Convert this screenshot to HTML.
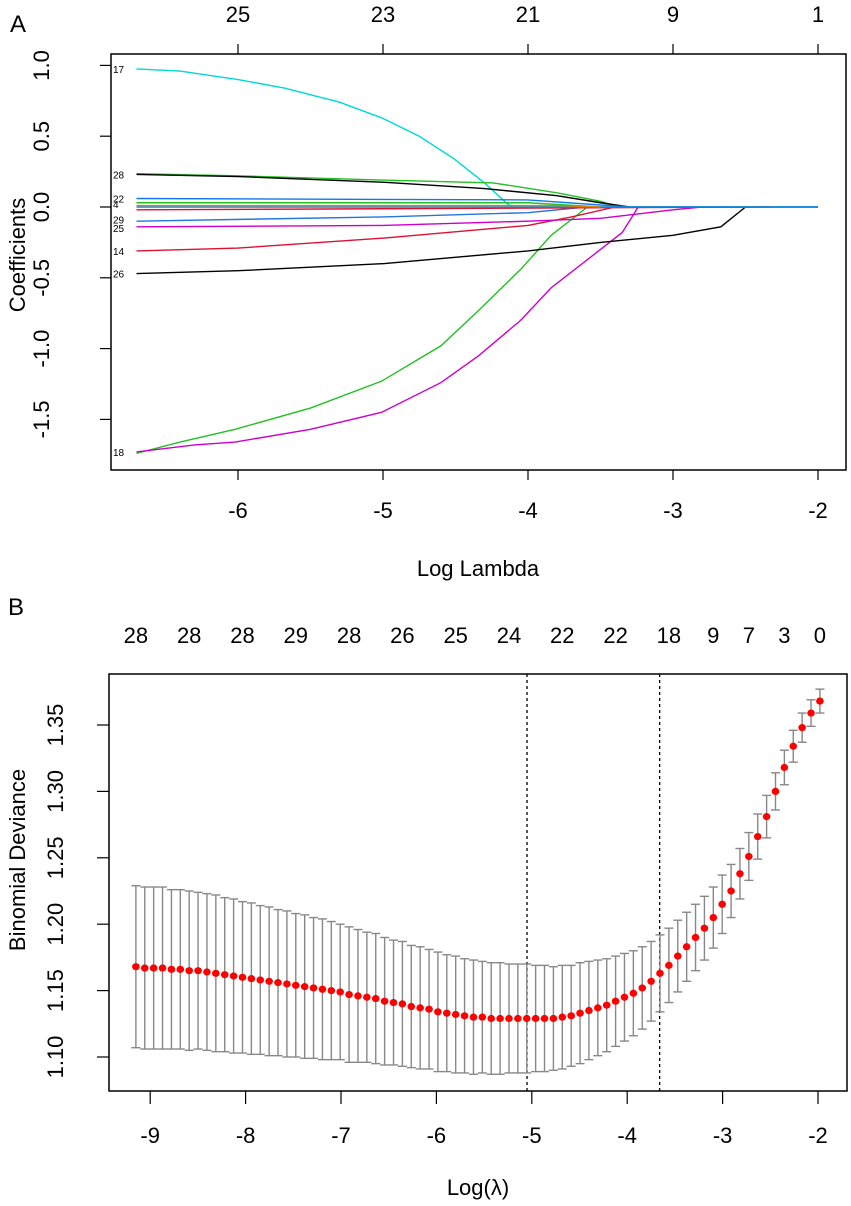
<!DOCTYPE html>
<html><head><meta charset="utf-8"><style>
body{margin:0;background:#fff}
svg text{font-family:"Liberation Sans",Arial,sans-serif;fill:#000}
</style></head><body>
<svg id="chart" width="851" height="1201" xmlns="http://www.w3.org/2000/svg">
<text x="10" y="32" font-size="24">A</text>
<text x="8" y="615" font-size="24">B</text>
<g id="pa"></g>
<g id="pb"></g>
</svg>
<script>
// ---- Panel A data ----
const aXTicks=[-6,-5,-4,-3,-2];
const aTopDf=["25","23","21","9","1"];
const aYTicks=[1.0,0.5,0.0,-0.5,-1.0,-1.5];
const aSeriesColors=["#00d8d8","#22c022","#000000","#22c022","#cc00cc","#000000","#dd1133","#cc00cc","#2277dd","#1177ee","#22c022","#dd1133","#1188dd","#e08000"];
const aSeries=[
[[-6.7,.975],[-6.4,.96],[-6,.9],[-5.68,.84],[-5.3,.74],[-5.01,.63],[-4.75,.5],[-4.51,.34],[-4.3,.17],[-4.14,.02],[-4.1,0],[-2,0]],
[[-6.7,.235],[-6,.22],[-5,.19],[-4.24,.17],[-3.8,.1],[-3.5,.04],[-3.37,0]],
[[-6.7,.23],[-6,.215],[-5,.175],[-4.3,.13],[-3.8,.08],[-3.5,.03],[-3.3,0]],
[[-6.7,-1.74],[-6.4,-1.66],[-6.02,-1.57],[-5.5,-1.42],[-5.01,-1.23],[-4.6,-.98],[-4.34,-.73],[-4.05,-.44],[-3.84,-.2],[-3.59,0]],
[[-6.7,-1.73],[-6.3,-1.68],[-6.02,-1.66],[-5.5,-1.57],[-5.01,-1.45],[-4.6,-1.24],[-4.34,-1.05],[-4.05,-.8],[-3.84,-.57],[-3.5,-.3],[-3.35,-.18],[-3.24,0]],
[[-6.7,-.47],[-6,-.45],[-5,-.4],[-4,-.31],[-3.5,-.25],[-3,-.2],[-2.67,-.14],[-2.5,0]],
[[-6.7,-.31],[-6,-.29],[-5,-.22],[-4,-.13],[-3.7,-.07],[-3.4,0]],
[[-6.7,-.14],[-5,-.13],[-4,-.1],[-3.5,-.08],[-3,-.02],[-2.8,0]],
[[-6.7,-.1],[-5,-.07],[-4,-.04],[-3.6,0]],
[[-6.7,.06],[-4,.05],[-3.3,0],[-2,0]],
[[-6.7,.03],[-4,.03],[-3.5,0]],
[[-6.7,-.02],[-4.5,-.01],[-2.33,0]],
[[-6.7,0],[-2,0]],
[[-6.7,.01],[-3.8,.01],[-3.5,0]]
];
const aLabels=[["17",.975],["28",.23],["22",.06],["4",.02],["29",-.09],["25",-.15],["14",-.31],["26",-.47],["18",-1.73]];
// ---- Panel B data ----
const bMean=[1.168,1.167,1.167,1.167,1.166,1.166,1.165,1.165,1.164,1.163,
1.162,1.161,1.160,1.159,1.158,1.157,1.156,1.155,1.154,1.153,
1.152,1.151,1.150,1.149,1.147,1.146,1.145,1.144,1.142,1.141,
1.140,1.138,1.137,1.136,1.134,1.133,1.132,1.131,1.130,1.130,
1.129,1.129,1.129,1.129,1.129,1.129,1.129,1.129,1.130,1.131,
1.133,1.135,1.137,1.139,1.142,1.145,1.148,1.152,1.157,1.163,
1.169,1.176,1.183,1.190,1.197,1.205,1.215,1.225,1.238,1.251,
1.266,1.281,1.300,1.318,1.334,1.348,1.359,1.368];
const bSe=[.061,.061,.061,.061,.060,.060,.060,.059,.059,.059,
.058,.058,.057,.057,.056,.056,.055,.055,.054,.054,
.053,.053,.052,.051,.051,.050,.049,.049,.048,.047,
.047,.046,.046,.045,.045,.044,.044,.043,.043,.042,
.042,.042,.041,.041,.041,.040,.040,.039,.039,.038,
.038,.037,.036,.035,.034,.033,.032,.031,.030,.029,
.028,.027,.026,.025,.024,.023,.022,.020,.019,.018,
.017,.016,.014,.013,.012,.011,.010,.009];
const bLogStart=-9.15, bLogEnd=-1.98;
const bXTicks=[-9,-8,-7,-6,-5,-4,-3,-2];
const bYTicks=[1.10,1.15,1.20,1.25,1.30,1.35];
const bTopIdx=[0,6,12,18,24,30,36,42,48,54,60,65,69,73,77];
const bTopDf=["28","28","28","29","28","26","25","24","22","22","18","9","7","3","0"];
const bVLines=[-5.05,-3.66];

const FS=22;
const NS="http://www.w3.org/2000/svg";
function mk(p,t,a){const e=document.createElementNS(NS,t);for(const k in a)e.setAttribute(k,a[k]);p.appendChild(e);return e;}
// Panel A
const pa=document.getElementById('pa');
const ax=v=>818-(-2-v)*145, ay=v=>207-v*141.6;
let r=mk(pa,'rect',{x:111,y:54,width:735,height:416,fill:'none',stroke:'#000','stroke-width':1.5});


aSeries.forEach((s,i)=>{
 const l=mk(pa,'polyline',{points:s.map(p=>ax(p[0])+','+ay(p[1])).join(' '),fill:'none',stroke:aSeriesColors[i],'stroke-width':1.4});
 
 
});
aLabels.forEach(l=>{const t=mk(pa,'text',{x:113,y:ay(l[1])+4,'font-size':10});t.textContent=l[0];
 
 });
aXTicks.forEach((v,i)=>{
 mk(pa,'line',{x1:ax(v),x2:ax(v),y1:470,y2:480,stroke:'#000','stroke-width':1.2});
 mk(pa,'line',{x1:ax(v),x2:ax(v),y1:54,y2:44,stroke:'#000','stroke-width':1.2});
 const t=mk(pa,'text',{x:ax(v),y:518,'font-size':FS,'text-anchor':'middle'});t.textContent=String(v);
 
 
 const u=mk(pa,'text',{x:ax(v),y:22,'font-size':FS,'text-anchor':'middle'});u.textContent=aTopDf[i];
 
 
});
aYTicks.forEach(v=>{
 mk(pa,'line',{x1:100,x2:111,y1:ay(v),y2:ay(v),stroke:'#000','stroke-width':1.2});
 const t=mk(pa,'text',{x:0,y:0,'font-size':FS,'text-anchor':'middle',transform:`translate(49,${ay(v)}) rotate(-90)`});t.textContent=v.toFixed(1);
 
 
});
let t=mk(pa,'text',{x:478,y:576,'font-size':FS,'text-anchor':'middle'});t.textContent='Log Lambda';


t=mk(pa,'text',{x:0,y:0,'font-size':FS,'text-anchor':'middle',transform:'translate(25,255) rotate(-90)'});t.textContent='Coefficients';


// Panel B
const pb=document.getElementById('pb');
const bx=v=>818-(-2-v)*95.4, by=v=>1057-(v-1.10)*1328;
r=mk(pb,'rect',{x:109,y:674,width:738,height:417,fill:'none',stroke:'#000','stroke-width':1.5});


const n=bMean.length, step=(bLogEnd-bLogStart)/(n-1);
const lx=i=>bLogStart+i*step;
bVLines.forEach(v=>{const l=mk(pb,'line',{x1:bx(v),x2:bx(v),y1:674,y2:1091,stroke:'#000','stroke-width':1.3,'stroke-dasharray':'3,3'});
 
 });
bMean.forEach((m,i)=>{
 const x=bx(lx(i)),yu=by(m+bSe[i]),yl=by(m-bSe[i]);
 const g=mk(pb,'g',{stroke:'#888','stroke-width':1.4});
 
 
 mk(g,'line',{x1:x,x2:x,y1:yu,y2:yl});
 mk(g,'line',{x1:x-4.5,x2:x+4.5,y1:yu,y2:yu});
 mk(g,'line',{x1:x-4.5,x2:x+4.5,y1:yl,y2:yl});
});
bMean.forEach((m,i)=>{const c=mk(pb,'ellipse',{cx:bx(lx(i)),cy:by(m),rx:3.8,ry:3.6,fill:'#ff0000'});
 
 });
bXTicks.forEach(v=>{
 mk(pb,'line',{x1:bx(v),x2:bx(v),y1:1091,y2:1104,stroke:'#000','stroke-width':1.2});
 const t=mk(pb,'text',{x:bx(v),y:1143,'font-size':FS,'text-anchor':'middle'});t.textContent=String(v);
 
 
});
bTopIdx.forEach((idx,i)=>{const t=mk(pb,'text',{x:bx(lx(idx)),y:643,'font-size':FS,'text-anchor':'middle'});t.textContent=bTopDf[i];
 
 });
bYTicks.forEach(v=>{
 mk(pb,'line',{x1:97,x2:109,y1:by(v),y2:by(v),stroke:'#000','stroke-width':1.2});
 const t=mk(pb,'text',{x:0,y:0,'font-size':FS,'text-anchor':'middle',transform:`translate(63,${by(v)}) rotate(-90)`});t.textContent=v.toFixed(2);
 
 
});
t=mk(pb,'text',{x:478,y:1195,'font-size':FS,'text-anchor':'middle'});t.textContent='Log(λ)';


t=mk(pb,'text',{x:0,y:0,'font-size':FS,'text-anchor':'middle',transform:'translate(25,860) rotate(-90)'});t.textContent='Binomial Deviance';


</script>
</body></html>
